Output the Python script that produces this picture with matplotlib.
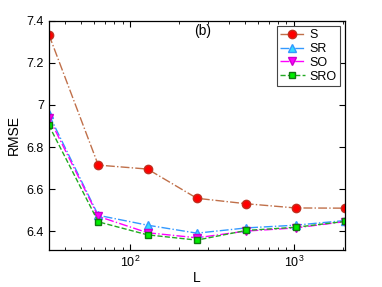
import matplotlib
matplotlib.use('Agg')
import matplotlib.pyplot as plt

plt.rcParams['font.family'] = ['Liberation Sans', 'DejaVu Sans']
plt.rcParams['mathtext.fontset'] = 'custom'
plt.rcParams['mathtext.rm'] = 'Liberation Sans'

L = [32, 64, 128, 256, 512, 1024, 2048]
rmse_s = [7.335, 6.714, 6.695, 6.556, 6.530, 6.510, 6.509]
rmse_sr = [6.955, 6.475, 6.428, 6.390, 6.415, 6.428, 6.450]
rmse_so = [6.940, 6.470, 6.392, 6.368, 6.400, 6.415, 6.445]
rmse_sro = [6.903, 6.444, 6.382, 6.357, 6.403, 6.418, 6.446]

fig = plt.figure(figsize=(3.82, 2.87), dpi=100)
ax = fig.add_axes([0.128, 0.129, 0.775, 0.798])

ax.plot(L, rmse_s, '-.', color='#c0704a', lw=1.0, marker='o', ms=6,
        mfc='red', mec='#c03020', label='S')
ax.plot(L, rmse_sr, '-.', color='#3399ff', lw=1.0, marker='^', ms=6,
        mfc='#33ddff', mec='#3399ff', label='SR')
ax.plot(L, rmse_so, '-.', color='#ff00ff', lw=1.0, marker='v', ms=6,
        mfc='#ff00ff', mec='#cc00cc', label='SO')
ax.plot(L, rmse_sro, '--', color='#22aa22', lw=1.0, marker='s', ms=5,
        mfc='#00ee00', mec='#117711', label='SRO')

ax.set_xscale('log')
ax.set_xlim(32, 2048)
ax.set_ylim(6.31, 7.4)
ax.set_yticks([6.4, 6.6, 6.8, 7.0, 7.2, 7.4])
ax.set_yticklabels(['6.4', '6.6', '6.8', '7', '7.2', '7.4'])
ax.tick_params(which='both', direction='in', top=True, right=True, labelsize=9)
ax.tick_params(which='major', length=4)
ax.tick_params(which='minor', length=2)
for sp in ax.spines.values():
    sp.set_linewidth(0.9)
ax.set_xlabel('L', fontsize=10, labelpad=1)
ax.set_ylabel('RMSE', fontsize=10)
ax.text(0.52, 0.985, '(b)', transform=ax.transAxes, fontsize=10, va='top', ha='center')

leg = ax.legend(loc='upper right', fontsize=9, fancybox=False, framealpha=1,
                edgecolor='#444444', handlelength=2.0, borderpad=0.25,
                labelspacing=0.15, handletextpad=0.4, borderaxespad=0.4)
leg.get_frame().set_linewidth(0.8)

fig.savefig('out.png', dpi=100)
